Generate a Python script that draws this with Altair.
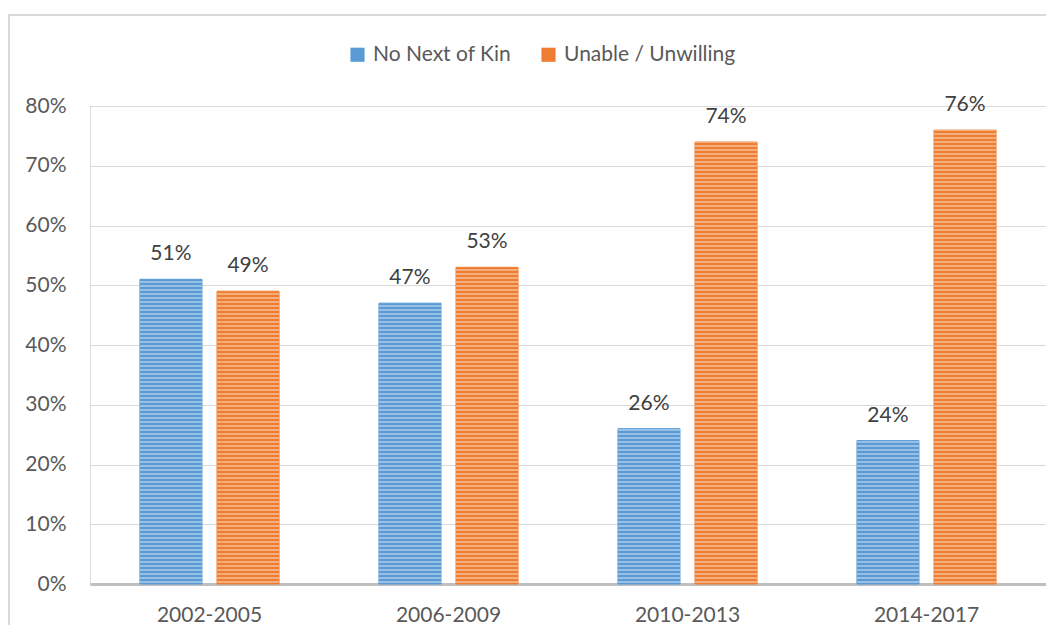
import altair as alt
import numpy as np
import pandas as pd

periods = ["2002-2005", "2006-2009", "2010-2013", "2014-2017"]
series = ["No Next of Kin", "Unable / Unwilling"]
no_next_of_kin = [0.51, 0.47, 0.26, 0.24]
unable_unwilling = [0.49, 0.53, 0.74, 0.76]
colors = ["#5b9bd5", "#ed7d31"]

rows = []
for p, a, b in zip(periods, no_next_of_kin, unable_unwilling):
    rows.append({"period": p, "series": series[0], "value": a})
    rows.append({"period": p, "series": series[1], "value": b})
df = pd.DataFrame(rows)

# light horizontal stripes (texture only), derived from the bar values
stripe_step = 4 / 597.5
srows = []
for r in rows:
    for y in np.arange(stripe_step / 2, r["value"], stripe_step):
        srows.append({"period": r["period"], "series": r["series"], "y": float(y)})
sdf = pd.DataFrame(srows)

FONT = "Lato"
FS = 21
x_enc = alt.X("period:N", sort=periods, title=None,
              scale=alt.Scale(paddingInner=0.418, paddingOuter=0.209),
              axis=alt.Axis(labelAngle=0, labelFontSize=FS, labelColor="#595959",
                            labelFont=FONT, ticks=False, labelPadding=20,
                            domainColor="#bfbfbf", domainWidth=3, grid=False))
xo = alt.XOffset("series:N", sort=series,
                 scale=alt.Scale(paddingInner=0.195, paddingOuter=0))

bars = alt.Chart(df).mark_bar(strokeWidth=1).encode(
    x=x_enc,
    xOffset=xo,
    y=alt.Y("value:Q", title=None,
            scale=alt.Scale(domain=[0, 0.8]),
            axis=alt.Axis(format=".0%", values=[0, .1, .2, .3, .4, .5, .6, .7, .8],
                          labelFontSize=FS, labelColor="#595959", labelFont=FONT,
                          ticks=False, domain=False, labelPadding=24,
                          gridColor="#d9d9d9", gridWidth=1)),
    color=alt.Color("series:N", sort=series,
                    scale=alt.Scale(domain=series, range=colors),
                    legend=alt.Legend(title=None, orient="none", direction="horizontal",
                                      legendX=257, legendY=-62, symbolType="square",
                                      symbolSize=200, symbolStrokeWidth=0,
                                      labelFontSize=FS, labelColor="#595959",
                                      labelFont=FONT, columnPadding=26, labelOffset=5,
                                      labelLimit=400)),
    stroke=alt.Stroke("series:N", sort=series,
                      scale=alt.Scale(domain=series, range=colors), legend=None),
)

stripes = alt.Chart(sdf).mark_tick(orient="horizontal", color="white", opacity=0.5,
                                   thickness=1.6, size=62).encode(
    x=alt.X("period:N", sort=periods),
    xOffset=alt.XOffset("series:N", sort=series),
    y=alt.Y("y:Q"),
)

labels = alt.Chart(df).mark_text(dy=-15, fontSize=FS, color="#404040", font=FONT,
                                 baseline="bottom").encode(
    x=alt.X("period:N", sort=periods),
    xOffset=alt.XOffset("series:N", sort=series),
    y="value:Q",
    text=alt.Text("value:Q", format=".0%"),
)

frame_left = alt.Chart(df).mark_rule(color="#d9d9d9", strokeWidth=1.5, clip=False).encode(
    x=alt.value(-81), y=alt.value(-91), y2=alt.value(560))
frame_top = alt.Chart(df).mark_rule(color="#d9d9d9", strokeWidth=1.5, clip=False).encode(
    x=alt.value(-82), x2=alt.value(1000), y=alt.value(-91))

chart = alt.layer(frame_left, frame_top, bars, stripes, labels).properties(
    width=956, height=478,
    padding={"left": 82, "top": 98, "right": 0, "bottom": 41},
    autosize=alt.AutoSizeParams(type="none"),
).configure_view(stroke=None).configure(background="white")

chart.save("out.html", embed_options={"renderer": "svg", "actions": False})
